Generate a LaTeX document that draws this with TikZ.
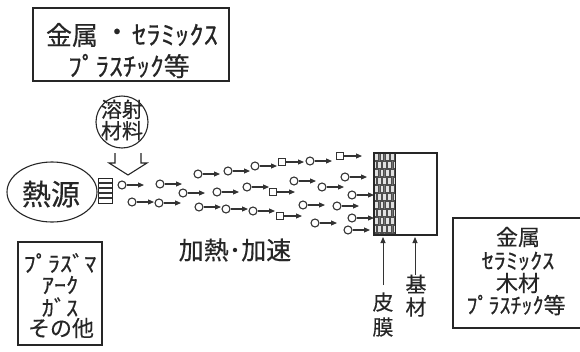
\documentclass[tikz,border=0pt]{standalone}
\usepackage{fontspec}
\usepackage{graphicx}
\newfontfamily\jp[FakeBold=0.4]{Noto Sans CJK JP}
\usetikzlibrary{arrows.meta,shapes.geometric}
\newcommand{\fs}[1]{\fontsize{#1}{#1}\selectfont}
\newcommand{\hkx}[2]{\scalebox{#1}[1]{#2}}
\begin{document}
\begin{tikzpicture}[x=1pt,y=-1pt,
  box/.style={draw=black!85, line width=1.3pt},
  pc/.style={circle, draw=black!80, line width=1.1pt, inner sep=0pt, minimum size=8pt},
  ps/.style={rectangle, draw=black!80, line width=1.1pt, inner sep=0pt, minimum size=7pt},
  parr/.style={draw=black!80, line width=1.1pt, -{Triangle[length=6pt,width=5pt]}},
  larr/.style={draw=black!80, line width=1pt, -{Triangle[length=6pt,width=5pt]}},
  lbl/.style={font=\jp, inner sep=0pt, anchor=center, text=black!85}]
\useasboundingbox (0,0) rectangle (580,351);
\clip (0,0) rectangle (580,351);
% top box
\node[box, minimum width=196pt, minimum height=73pt, inner sep=0pt] (topbox) at (131,44.5) {};
\node[lbl] (t1a) at (72,35) {\fs{26}金属};
\node[lbl] (t1b) at (117,35) {\fs{26}・};
\node[lbl] (t1c) at (175,35) {\fs{26}\hkx{1.1}{ｾﾗﾐｯｸｽ}};
\node[lbl] (t2) at (129,66) {\fs{26}\hkx{1.05}{ﾌﾟﾗｽﾁｯｸ}等};
% spray material circle
\node[circle, draw=black!85, line width=1.1pt, minimum size=52pt, inner sep=0pt] (mat) at (122,122) {};
\node[lbl, align=center] (matt) at (122,120) {\fs{21}溶射\\[1pt]\fs{21}材料};
% block arrow
\draw[line width=1.1pt, draw=black!85, fill=white] (115,153) -- (115,163) -- (109,163) -- (128,175) -- (147,163) -- (141,163) -- (141,153);
% heat source
\node[ellipse, draw=black!85, line width=1.1pt, minimum width=90pt, minimum height=60pt, inner sep=0pt] (heat) at (52,192) {};
\node[lbl] (heatt) at (51,194) {\fs{29}熱源};
% nozzle
\draw[line width=1pt, draw=black!85, fill=white] (98,178) rectangle (112,203);
\foreach \yy in {183,188,193,198} \draw[line width=1.6pt, black!80] (98,\yy) -- (112,\yy);
% particles
\foreach \n/\x/\y/\s in {1/122/185/pc, 2/160/184/pc, 3/132/202/pc, 4/159/203/pc, 5/183/193/pc,
  6/198/174/pc, 7/217/192/pc, 8/199/207/pc, 9/226/209/pc, 10/228/171/pc, 11/255/166/pc,
  12/247/187/pc, 13/253/211/pc, 14/273/192/ps, 15/282/162/ps, 16/294/181/pc, 17/280/216/ps,
  18/310/161/pc, 19/303/205/pc, 20/315/223/pc, 21/322/187/pc, 22/340/156/ps, 23/337/206/pc,
  24/345/177/pc, 25/352/195/pc, 26/352/218/pc, 27/348/230/pc}{
  \node[\s] (p\n) at (\x,\y) {};
  \coordinate (q\n) at (\x+22,\y);
  \draw[parr] (p\n) -- (q\n);
}
% coating with bricks
\begin{scope}
  \clip (374,153) rectangle (395,235);
  \fill[black!55] (374,153) rectangle (395,235);
  \foreach \r in {0,...,10}{
    \pgfmathsetmacro{\off}{mod(\r,2)*2.6}
    \foreach \c in {-1,...,4}{
      \draw[fill=black!12, draw=black!70, line width=0.5pt]
        (374+\c*5.25+\off+0.6,153+\r*8+0.6) rectangle (374+\c*5.25+\off+4.4,153+\r*8+7.4);
    }
  }
\end{scope}
\node[draw=black!85, line width=1.2pt, minimum width=63pt, minimum height=82pt, inner sep=0pt] (sub) at (405.5,194) {};
\draw[black!85, line width=1pt] (395,153) -- (395,235);
% labels below
\coordinate (c1) at (383,285);
\coordinate (c2) at (415,275);
\draw[larr] (c1) -- (383,237);
\draw[larr] (c2) -- (415,237);
\node[lbl] (hi) at (383,302) {\fs{21}皮};
\node[lbl] (maku) at (383,327) {\fs{21}膜};
\node[lbl] (ki) at (416,284) {\fs{21}基};
\node[lbl] (zai) at (416,307) {\fs{21}材};
% heating label
\node[lbl] (kanetsu) at (235,250) {\fs{25}加熱･加速};
% bottom left box
\node[box, minimum width=84pt, minimum height=103pt, inner sep=0pt] (gas) at (60,293.5) {};
\node[lbl] (g1) at (60,263) {\fs{22}\hkx{1.1}{ﾌﾟﾗｽﾞﾏ}};
\node[lbl] (g2) at (60,285) {\fs{22}\hkx{1.1}{ｱｰｸ}};
\node[lbl] (g3) at (60,307) {\fs{22}\hkx{1.1}{ｶﾞｽ}};
\node[lbl] (g4) at (61,328) {\fs{22}その他};
% right box
\draw[box] (590,218) -- (453,218) -- (453,328) -- (590,328);
\node[lbl] (r1) at (518,237) {\fs{22}金属};
\node[lbl] (r2) at (518,261) {\fs{22}\hkx{1.1}{ｾﾗﾐｯｸｽ}};
\node[lbl] (r3) at (518,283) {\fs{22}木材};
\node[lbl] (r4) at (516,305) {\fs{22}ﾌﾟﾗｽﾁｯｸ等};
\end{tikzpicture}
\end{document}
